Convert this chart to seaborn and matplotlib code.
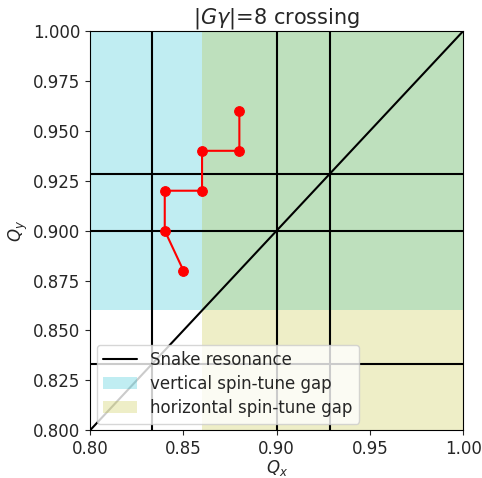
import matplotlib
matplotlib.use("Agg")
import matplotlib.pyplot as plt
import seaborn as sns
import pandas as pd

sns.set_style("ticks")
plt.rcParams['font.family'] = ['DejaVu Sans']
plt.rcParams['font.size'] = 12

# tune path during the crossing
qx_path = [0.85, 0.84, 0.84, 0.86, 0.86, 0.88, 0.88]
qy_path = [0.88, 0.90, 0.92, 0.92, 0.94, 0.94, 0.96]

# resonance lines
res_x = [5 / 6, 0.9, 13 / 14]
res_y = [5 / 6, 0.9, 13 / 14]

# snake resonance diagonal
snake_q = [0.8, 1.0]

# spin-tune gap limits
gap_lo, gap_hi = 0.86, 1.0

fig = plt.figure(figsize=(4.82, 4.78), dpi=100)
ax = fig.add_axes([0.187, 0.1, 0.774, 0.835])

ax.axhspan(gap_lo, gap_hi, color="tab:cyan", alpha=0.27, lw=0,
           label="vertical spin-tune gap")
ax.axvspan(gap_lo, gap_hi, color="tab:olive", alpha=0.25, lw=0,
           label="horizontal spin-tune gap")

for v in res_x:
    ax.axvline(v, color="black", lw=1.5)
for h in res_y:
    ax.axhline(h, color="black", lw=1.5)

sns.lineplot(x=snake_q, y=snake_q, color="black", lw=1.5, ax=ax,
             label="Snake resonance")

path = pd.DataFrame({"Qx": qx_path, "Qy": qy_path})
sns.lineplot(data=path, x="Qx", y="Qy", sort=False, estimator=None,
             color="red", marker="o", markersize=7, markeredgecolor="red",
             lw=1.5, ax=ax)

ax.set_xlim(0.8, 1.0)
ax.set_ylim(0.8, 1.0)
ax.set_xticks([0.80, 0.85, 0.90, 0.95, 1.00])
ax.set_xticklabels(["0.80", "0.85", "0.90", "0.95", "1.00"])
ax.set_yticks([0.800, 0.825, 0.850, 0.875, 0.900, 0.925, 0.950, 0.975, 1.000])
ax.set_yticklabels([f"{t:.3f}" for t in ax.get_yticks()])
ax.tick_params(labelsize=12)
ax.set_xlabel("$Q_x$", fontsize=12, labelpad=0)
ax.set_ylabel("$Q_y$", fontsize=12, labelpad=2)
ax.set_title("|$G\\gamma$|=8 crossing", fontsize=15, pad=4)

handles, labels = ax.get_legend_handles_labels()
order = [labels.index(l) for l in ["Snake resonance", "vertical spin-tune gap",
                                    "horizontal spin-tune gap"]]
ax.legend([handles[i] for i in order], [labels[i] for i in order],
          loc="lower left", fontsize=12, frameon=True, borderaxespad=0.4,
          labelspacing=0.35)
for s in ax.spines.values():
    s.set_color("black")

fig.savefig("out.png", dpi=100)
